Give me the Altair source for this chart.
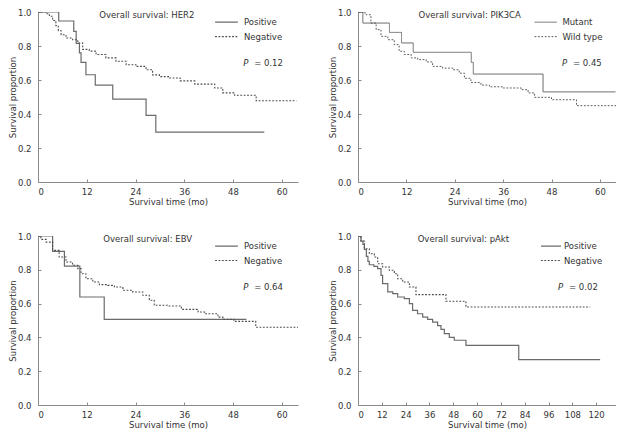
import altair as alt
import pandas as pd

FONT = "DejaVu Sans"
FS = 8.5
TXT = "#333333"
SOLID = "#6a6a6a"
DASHC = "#4a4a4a"
AXC = "#8a8a8a"

# ---------------- Panel 1: HER2 ----------------
her2_groups = ["Positive", "Negative"]
her2_pos_t = [0, 5.1, 8.8, 9.4, 10.2, 10.6, 11.8, 14.1, 18.4, 26.6, 29.0, 55.7]
her2_pos_s = [1.0, 0.947, 0.886, 0.815, 0.76, 0.704, 0.631, 0.57, 0.488, 0.392, 0.293, 0.293]
her2_neg_t = [0, 2.0, 2.8, 3.6, 4.4, 5.0, 5.7, 6.9, 8.5, 9.8, 11.0, 12.6, 14.3, 16.7, 19.2, 21.7,
              24.1, 26.6, 28.2, 29.9, 32.3, 35.0, 38.6, 43.5, 45.5, 48.4, 53.7, 63.6]
her2_neg_s = [1.0, 0.99, 0.975, 0.95, 0.92, 0.89, 0.866, 0.847, 0.837, 0.818, 0.78, 0.77, 0.75, 0.73,
              0.71, 0.69, 0.68, 0.66, 0.63, 0.62, 0.612, 0.595, 0.576, 0.553, 0.524, 0.51, 0.478, 0.478]

# ---------------- Panel 2: PIK3CA ----------------
pik_groups = ["Mutant", "Wild type"]
pik_mut_t = [0, 1.2, 7.8, 10.8, 13.7, 28.1, 28.6, 45.9, 63.9]
pik_mut_s = [1.0, 0.935, 0.88, 0.818, 0.763, 0.704, 0.635, 0.53, 0.53]
pik_wt_t = [0, 1.2, 2.0, 3.2, 4.5, 5.7, 7.4, 9.0, 10.2, 11.5, 13.2, 14.8, 16.9, 18.5, 21.0, 23.5,
            25.1, 26.4, 28.0, 30.5, 32.6, 36.0, 40.5, 42.2, 43.8, 48.0, 54.2, 64.0]
pik_wt_s = [1.0, 0.995, 0.984, 0.935, 0.896, 0.857, 0.837, 0.808, 0.769, 0.75, 0.73, 0.72, 0.706, 0.68,
            0.67, 0.66, 0.64, 0.61, 0.585, 0.57, 0.56, 0.553, 0.543, 0.524, 0.498, 0.484, 0.449, 0.449]

# ---------------- Panel 3: EBV ----------------
ebv_groups = ["Positive", "Negative"]
ebv_pos_t = [0, 3.6, 6.5, 10.3, 16.3, 51.3]
ebv_pos_s = [1.0, 0.909, 0.822, 0.639, 0.507, 0.507]
ebv_neg_t = [0, 0.7, 2.0, 3.6, 5.2, 6.9, 8.5, 9.8, 10.6, 11.8, 13.5, 15.1, 17.2, 18.8, 20.9, 23.3,
             25.8, 27.4, 28.6, 32.3, 35.3, 39.4, 41.0, 44.3, 45.5, 48.2, 53.6, 64.0]
ebv_neg_s = [1.0, 0.98, 0.964, 0.915, 0.876, 0.846, 0.827, 0.807, 0.777, 0.747, 0.728, 0.712, 0.708,
             0.698, 0.679, 0.669, 0.649, 0.62, 0.59, 0.586, 0.566, 0.55, 0.54, 0.52, 0.507, 0.495, 0.46, 0.46]

# ---------------- Panel 4: pAkt ----------------
akt_groups = ["Positive", "Negative"]
akt_pos_t = [0, 1.5, 2.5, 3.2, 4.2, 5.0, 5.7, 8.0, 9.9, 11.6, 12.4, 15.0, 17.5, 20.0, 23.3, 25.9,
             27.5, 30.0, 32.6, 35.1, 37.6, 40.1, 41.8, 43.5, 46.0, 48.5, 54.4, 81.0, 122.0]
akt_pos_s = [1.0, 0.97, 0.95, 0.92, 0.88, 0.85, 0.83, 0.82, 0.807, 0.767, 0.718, 0.669, 0.659, 0.639,
             0.629, 0.60, 0.56, 0.54, 0.52, 0.507, 0.49, 0.47, 0.448, 0.422, 0.40, 0.383, 0.353, 0.268, 0.268]
akt_neg_t = [0, 1.5, 3.2, 5.7, 8.2, 9.9, 12.4, 15.8, 18.3, 20.0, 22.5, 25.9, 29.2, 44.3, 54.4, 117.0]
akt_neg_s = [1.0, 0.97, 0.925, 0.895, 0.876, 0.836, 0.817, 0.797, 0.777, 0.747, 0.728, 0.698, 0.653,
             0.614, 0.58, 0.58]

# ticks / annotation texts
y_ticks = [0.0, 0.2, 0.4, 0.6, 0.8, 1.0]
x_ticks_60 = [0, 12, 24, 36, 48, 60]
x_ticks_120 = [0, 12, 24, 36, 48, 60, 72, 84, 96, 108, 120]
titles = ["Overall survival: HER2", "Overall survival: PIK3CA", "Overall survival: EBV", "Overall survival: pAkt"]
p_values = ["= 0.12", "= 0.45", "= 0.64", "= 0.02"]
# annotation anchor positions in data units (months, proportion)
title_t = [26.8, 27.7, 27.0, 53.1]
legend_t = [(43.6, 49.2, 50.7), (43.8, 49.3, 50.7), (43.6, 49.2, 50.7), (92.2, 102.3, 103.8)]
p_t = [50.5, 50.6, 50.5, 100.8]
x_max = [64, 64, 64, 130]
legend_s = [0.94, 0.855]
title_s = 0.98
p_s = 0.70


def panel(i, groups, curves, xticks, width, height):
    xs = alt.Scale(domain=[0, x_max[i]], nice=False, zero=True)
    ys = alt.Scale(domain=[0, 1], nice=False)
    xdef = dict(scale=xs, title="Survival time (mo)",
                axis=alt.Axis(values=xticks, format="d", tickSize=alt.ExprRef("-3"), labelPadding=8,
                              titlePadding=2, grid=False))
    ydef = dict(scale=ys, title="Survival proportion",
                axis=alt.Axis(values=y_ticks, format=".1f", tickSize=alt.ExprRef("-3"), labelPadding=10,
                              titlePadding=0, grid=False))
    dash = alt.Scale(domain=groups, range=[[1, 0], [1.8, 1.6]])
    col = alt.Scale(domain=groups, range=[SOLID, DASHC])
    sw = alt.Scale(domain=groups, range=[1.2, 0.9])

    rows = []
    for g, (ts, ss) in zip(groups, curves):
        for t, s in zip(ts, ss):
            rows.append({"t": t, "s": s, "grp": g})
    df = pd.DataFrame(rows)

    lines = alt.Chart(df).mark_line(interpolate="step-after", clip=True).encode(
        x=alt.X("t:Q", **xdef),
        y=alt.Y("s:Q", **ydef),
        strokeDash=alt.StrokeDash("grp:N", scale=dash, legend=None),
        color=alt.Color("grp:N", scale=col, legend=None),
        strokeWidth=alt.StrokeWidth("grp:N", scale=sw, legend=None),
    )

    l1, l2, lt = legend_t[i]
    leg_df = pd.DataFrame({"t": [l1, l1], "t2": [l2, l2], "s": legend_s, "grp": groups,
                           "tt": [lt, lt]})
    leg_lines = alt.Chart(leg_df).mark_rule().encode(
        x=alt.X("t:Q", **xdef), x2="t2:Q", y=alt.Y("s:Q", **ydef),
        strokeDash=alt.StrokeDash("grp:N", scale=dash, legend=None),
        color=alt.Color("grp:N", scale=col, legend=None),
        strokeWidth=alt.StrokeWidth("grp:N", scale=sw, legend=None),
    )
    leg_text = alt.Chart(leg_df).mark_text(align="left", baseline="middle", font=FONT, fontSize=FS,
                                           color=TXT).encode(
        x=alt.X("tt:Q", **xdef), y=alt.Y("s:Q", **ydef), text="grp:N")

    ann = pd.DataFrame({"t": [title_t[i]], "s": [title_s], "label": [titles[i]],
                        "pt": [p_t[i]], "ps": [p_s], "pv": [p_values[i]], "P": ["P"]})
    title_mark = alt.Chart(ann).mark_text(align="center", baseline="middle", font=FONT, fontSize=FS,
                                          color=TXT).encode(
        x=alt.X("t:Q", **xdef), y=alt.Y("s:Q", **ydef), text="label:N")
    p_mark = alt.Chart(ann).mark_text(align="left", baseline="middle", font=FONT, fontSize=FS,
                                      fontStyle="italic", color=TXT).encode(
        x=alt.X("pt:Q", **xdef), y=alt.Y("ps:Q", **ydef), text="P:N")
    pv_mark = alt.Chart(ann).mark_text(align="left", baseline="middle", font=FONT, fontSize=FS,
                                       dx=11, color=TXT).encode(
        x=alt.X("pt:Q", **xdef), y=alt.Y("ps:Q", **ydef), text="pv:N")

    return alt.layer(lines, leg_lines, leg_text, title_mark, p_mark, pv_mark).properties(
        width=width, height=height)


p1 = panel(0, her2_groups, [(her2_pos_t, her2_pos_s), (her2_neg_t, her2_neg_s)], x_ticks_60, 260, 170)
p2 = panel(1, pik_groups, [(pik_mut_t, pik_mut_s), (pik_wt_t, pik_wt_s)], x_ticks_60, 258, 170)
p3 = panel(2, ebv_groups, [(ebv_pos_t, ebv_pos_s), (ebv_neg_t, ebv_neg_s)], x_ticks_60, 260, 169)
p4 = panel(3, akt_groups, [(akt_pos_t, akt_pos_s), (akt_neg_t, akt_neg_s)], x_ticks_120, 258, 169)

row1 = alt.hconcat(p1, p2, spacing=30)
row2 = alt.hconcat(p3, p4, spacing=30)
chart = alt.vconcat(row1, row2, spacing=26).properties(
    padding={"left": 0, "top": 0, "right": 0, "bottom": 0}
).configure_view(strokeWidth=0).configure_axis(
    labelFont=FONT, labelFontSize=FS, labelColor=TXT,
    titleFont=FONT, titleFontSize=FS, titleColor=TXT, titleFontWeight="normal",
    domainColor=AXC, tickColor=AXC, domainWidth=1, tickWidth=1,
)

chart.save("out.html", embed_options={"renderer": "svg", "actions": False})
